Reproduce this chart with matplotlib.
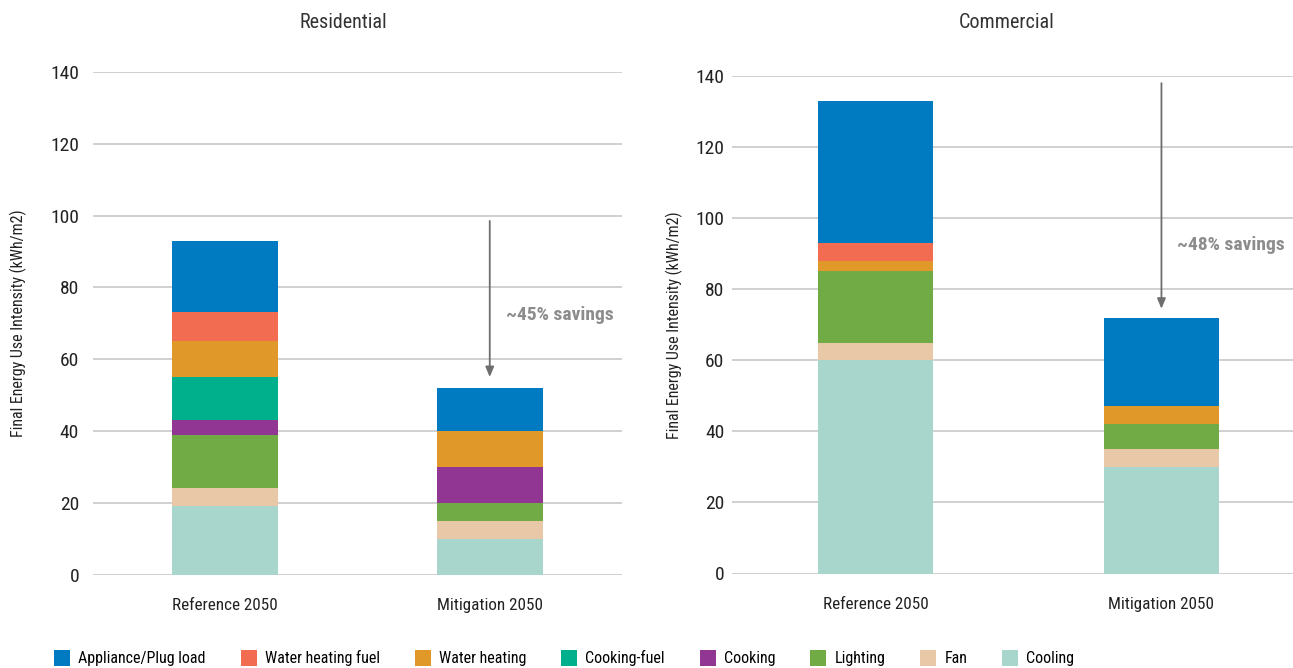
import matplotlib
matplotlib.use("Agg")
import matplotlib.pyplot as plt
from matplotlib import font_manager
from matplotlib.patches import Patch

# pick a narrow font if one is installed
names = set(f.name for f in font_manager.fontManager.ttflist)
font = "DejaVu Sans"
for cand in ["Liberation Sans Narrow", "DejaVu Sans Condensed", "Roboto Condensed", "Open Sans Condensed"]:
    if cand in names:
        font = cand
        break
plt.rcParams['font.family'] = [font, 'DejaVu Sans']

scenarios = ["Reference 2050", "Mitigation 2050"]
end_uses = ["Appliance/Plug load", "Water heating fuel", "Water heating", "Cooking-fuel",
            "Cooking", "Lighting", "Fan", "Cooling"]
colors = ["#007bc2", "#f26c52", "#e09828", "#00b08c", "#923694", "#70ab45", "#e9c8a7", "#a9d6cc"]

# stacked from the bottom: Cooling, Fan, Lighting, Cooking, Cooking-fuel, Water heating, Water heating fuel, Appliance
res_cooling = [19, 10]
res_fan = [5, 5]
res_lighting = [15, 5]
res_cooking = [4, 10]
res_cooking_fuel = [12, 0]
res_water = [10, 10]
res_water_fuel = [8, 0]
res_appliance = [20, 12]

com_cooling = [60, 30]
com_fan = [5, 5]
com_lighting = [20, 7]
com_cooking = [0, 0]
com_cooking_fuel = [0, 0]
com_water = [3, 5]
com_water_fuel = [5, 0]
com_appliance = [40, 25]

res_savings = "~45% savings"
com_savings = "~48% savings"

fig = plt.figure(figsize=(12.93, 6.68), dpi=100)
W, H = 1293.0, 668.0
ax1 = fig.add_axes([93 / W, (H - 574.5) / H, 529 / W, 502.5 / H])
ax2 = fig.add_axes([732.5 / W, (H - 573.5) / H, 560.5 / W, 497.5 / H])

grid_c = "#c8c8c8"
arrow_c = "#6e6e6e"


def draw(ax, stacks, xmax, pad):
    x = range(len(scenarios))
    bottom = [0, 0]
    for vals, c in zip(stacks, colors[::-1]):
        ax.bar(x, vals, 0.4, bottom=bottom, color=c, zorder=3)
        bottom = [b + v for b, v in zip(bottom, vals)]
    ax.set_ylim(0, 140)
    ax.set_xlim(-0.5, xmax)
    ax.set_yticks(range(0, 141, 20))
    ax.set_xticks(list(x))
    ax.set_xticklabels(scenarios)
    ax.grid(axis='y', color=grid_c, lw=1.2, zorder=0)
    ax.set_axisbelow(True)
    for s in ax.spines.values():
        s.set_visible(False)
    ax.tick_params(axis='y', length=0, pad=pad, labelsize=14, labelcolor="#222222")
    ax.tick_params(axis='x', length=0, pad=17, labelsize=12.3, labelcolor="#222222")
    ax.set_ylabel("Final Energy Use Intensity (kWh/m2)", fontsize=11.5, color="#222222")
    return bottom


draw(ax1, [res_cooling, res_fan, res_lighting, res_cooking, res_cooking_fuel,
           res_water, res_water_fuel, res_appliance], 1.5, 10)
draw(ax2, [com_cooling, com_fan, com_lighting, com_cooking, com_cooking_fuel,
           com_water, com_water_fuel, com_appliance], 1.46, 6)
ax1.yaxis.set_label_coords(-0.124, 0.5)
ax2.yaxis.set_label_coords(-0.088, 0.5)

aprops = dict(arrowstyle="-|>,head_width=0.25,head_length=0.6", color=arrow_c, lw=1.3, shrinkA=0, shrinkB=0)
ax1.annotate("", xy=(1, 55), xytext=(1, 98.5), arrowprops=aprops)
ax1.text(1.06, 72.3, res_savings, fontsize=14, fontweight='bold', color="#8c8c8c", va='center', ha='left')
ax2.annotate("", xy=(1, 74.5), xytext=(1, 138), arrowprops=aprops)
ax2.text(1.055, 92.5, com_savings, fontsize=14, fontweight='bold', color="#8c8c8c", va='center', ha='left')

fig.text(343 / W, 1 - 23 / H, "Residential", fontsize=14.5, color="#333333", ha='center', va='center')
fig.text(1007 / W, 1 - 23 / H, "Commercial", fontsize=14.5, color="#333333", ha='center', va='center')

handles = [Patch(facecolor=c, label=l) for c, l in zip(colors, end_uses)]
fig.legend(handles=handles, loc='center left', bbox_to_anchor=(54 / W, 1 - 658 / H), ncol=8,
           frameon=False, fontsize=11.5, handlelength=1.0, handleheight=1.2, handletextpad=0.5,
           columnspacing=2.2, borderaxespad=0, borderpad=0)

fig.savefig("out.png", dpi=100)
